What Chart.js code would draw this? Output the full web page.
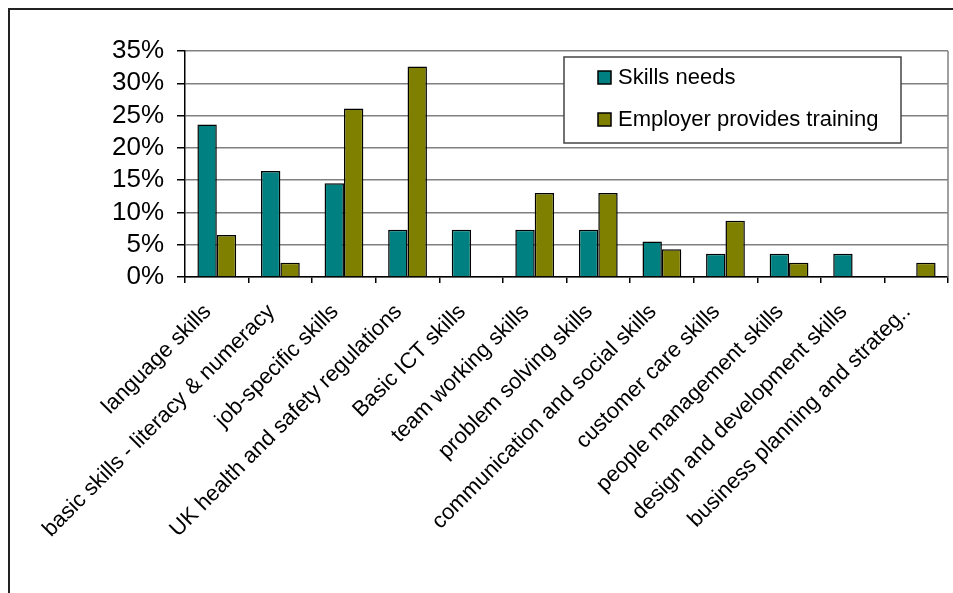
<!DOCTYPE html>
<html>
<head>
<meta charset="utf-8">
<script src="https://cdn.jsdelivr.net/npm/chart.js@4/dist/chart.umd.min.js"></script>
<style>
  html, body { margin: 0; padding: 0; background: #fff; overflow: hidden; }
  #wrap { position: relative; width: 953px; height: 593px; }
  #frame { position: absolute; left: 8px; top: 8px; width: 1000px; height: 1000px; border-left: 2px solid #222; border-top: 2px solid #222; box-sizing: border-box; }
  canvas { position: absolute; left: 0; top: 0; }
</style>
</head>
<body>
<div id="wrap">
  <div id="frame"></div>
  <canvas id="c" width="953" height="593"></canvas>
</div>
<script>
const categories = [
  "language skills",
  "basic skills - literacy & numeracy",
  "job-specific skills",
  "UK health and safety regulations",
  "Basic ICT skills",
  "team working skills",
  "problem solving skills",
  "communication and social skills",
  "customer care skills",
  "people management skills",
  "design and development skills",
  "business planning and strateg.."
];
const skillsNeeds = [23.6, 16.4, 14.5, 7.3, 7.3, 7.3, 7.3, 5.5, 3.6, 3.6, 3.6, 0];
const employerTraining = [6.5, 2.2, 26.1, 32.6, 0, 13.0, 13.0, 4.3, 8.7, 2.2, 0, 2.2];
const seriesNames = ["Skills needs", "Employer provides training"];
const yTicks = [0, 5, 10, 15, 20, 25, 30, 35];

const FONT = "'Liberation Sans', Arial, sans-serif";

const overlay = {
  id: 'overlay',
  afterDraw(chart) {
    const ctx = chart.ctx;
    const a = chart.chartArea;
    ctx.save();
    // plot area right border
    ctx.strokeStyle = '#808080';
    ctx.lineWidth = 1.5;
    ctx.beginPath();
    ctx.moveTo(a.right, a.top);
    ctx.lineTo(a.right, a.bottom);
    ctx.stroke();
    // legend
    const lx = 564, ly = 57, lw = 337, lh = 86;
    ctx.fillStyle = '#fff';
    ctx.fillRect(lx, ly, lw, lh);
    ctx.strokeStyle = '#444';
    ctx.lineWidth = 1.5;
    ctx.strokeRect(lx, ly, lw, lh);
    ctx.font = "22px " + FONT;
    ctx.textBaseline = 'middle';
    ctx.textAlign = 'left';
    chart.data.datasets.forEach((ds, i) => {
      const cy = 77 + i * 42;
      ctx.fillStyle = ds.backgroundColor;
      ctx.fillRect(598, cy - 6, 13, 13);
      ctx.strokeStyle = '#000';
      ctx.lineWidth = 1.5;
      ctx.strokeRect(598, cy - 6, 13, 13);
      ctx.fillStyle = '#000';
      ctx.fillText(ds.label, 618, cy + 1);
    });
    ctx.restore();
  }
};

new Chart(document.getElementById('c'), {
  type: 'bar',
  data: {
    labels: categories,
    datasets: [
      { label: seriesNames[0], data: skillsNeeds, backgroundColor: '#008080', borderColor: '#000', borderWidth: 1.5, categoryPercentage: 0.61, barPercentage: 1.0 },
      { label: seriesNames[1], data: employerTraining, backgroundColor: '#808000', borderColor: '#000', borderWidth: 1.5, categoryPercentage: 0.61, barPercentage: 1.0 }
    ]
  },
  options: {
    responsive: false,
    animation: false,
    layout: { padding: { top: 51, right: 5, bottom: 0, left: 0 } },
    plugins: { legend: { display: false }, tooltip: { enabled: false }, title: { display: false } },
    scales: {
      x: {
        grid: { display: true, drawOnChartArea: false, drawTicks: true, tickLength: 6, color: '#000', lineWidth: 1.5, offset: true },
        border: { display: true, color: '#000', width: 1.5 },
        ticks: {
          autoSkip: false, minRotation: 45, maxRotation: 45, padding: 16, labelOffset: -9,
          color: '#000', font: { family: FONT, size: 22 }
        },
        afterFit(scale) { scale.height = 316; }
      },
      y: {
        min: 0, max: 35,
        afterBuildTicks(scale) { scale.ticks = yTicks.map(v => ({ value: v })); },
        grid: { color: '#808080', lineWidth: 1.5, tickColor: '#000', tickLength: 8, drawTicks: true },
        border: { display: true, color: '#000', width: 1.5 },
        ticks: {
          autoSkip: false, padding: 13, color: '#000', font: { family: FONT, size: 26 },
          callback: v => v + '%'
        },
        afterFit(scale) { scale.width = 185; }
      }
    }
  },
  plugins: [overlay]
});
</script>
</body>
</html>
